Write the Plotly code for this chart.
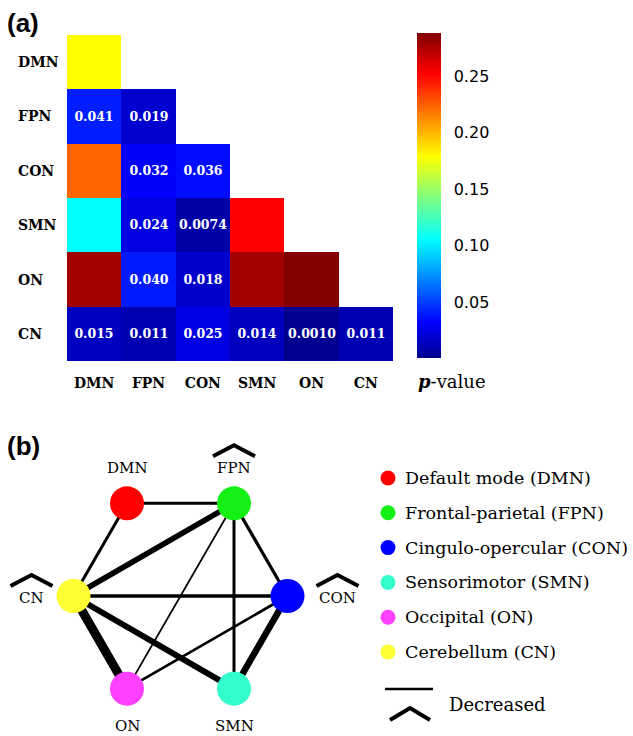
import numpy as np
import plotly.graph_objects as go

W, H = 633, 736

# ---------------- data : panel (a) ----------------
networks = ["DMN", "FPN", "CON", "SMN", "ON", "CN"]

# lower-triangular p-values, one list per row network (columns follow `networks`)
p_DMN = [0.179, None, None, None, None, None]
p_FPN = [0.041, 0.019, None, None, None, None]
p_CON = [0.223, 0.032, 0.036, None, None, None]
p_SMN = [0.106, 0.024, 0.0074, 0.252, None, None]
p_ON = [0.279, 0.040, 0.018, 0.279, 0.287, None]
p_CN = [0.015, 0.011, 0.025, 0.014, 0.0010, 0.011]

# printed values (significant cells only)
t_DMN = ["", "", "", "", "", ""]
t_FPN = ["0.041", "0.019", "", "", "", ""]
t_CON = ["", "0.032", "0.036", "", "", ""]
t_SMN = ["", "0.024", "0.0074", "", "", ""]
t_ON = ["", "0.040", "0.018", "", "", ""]
t_CN = ["0.015", "0.011", "0.025", "0.014", "0.0010", "0.011"]

cbar_ticks = [0.05, 0.10, 0.15, 0.20, 0.25]
p_min, p_max = 0.0010, 0.288

# ---------------- data : panel (b) ----------------
node_full = ["Default mode (DMN)", "Frontal-parietal (FPN)", "Cingulo-opercular (CON)",
             "Sensorimotor (SMN)", "Occipital (ON)", "Cerebellum (CN)"]
node_colors = ["#ff0000", "#14f014", "#0000ff", "#33ffcc", "#ff40ff", "#ffff33"]

edge_a = ["DMN", "DMN", "FPN", "FPN", "FPN", "FPN", "CN", "CN", "CN", "SMN", "ON"]
edge_b = ["FPN", "CN", "CN", "ON", "SMN", "CON", "CON", "ON", "SMN", "CON", "CON"]
edge_weight = [3.0, 3.0, 5.5, 1.8, 3.0, 3.2, 3.5, 9.0, 6.0, 6.5, 2.7]

decreased_within = ["FPN", "CON", "CN"]

# ---------------- helpers / layout geometry ----------------
def py(y):
    return 1 - y / H

def px(x):
    return x / W

SERIF = "DejaVu Serif"

z = [p_DMN, p_FPN, p_CON, p_SMN, p_ON, p_CN]
txt = [t_DMN, t_FPN, t_CON, t_SMN, t_ON, t_CN]

jet = [[0.0, "#000090"], [0.11, "#0000ff"], [0.365, "#00ffff"],
       [0.62, "#ffff00"], [0.875, "#ff0000"], [1.0, "#800000"]]

fig = go.Figure()

CB_TOP, CB_BOT = 33, 358
fig.add_trace(go.Heatmap(
    z=z, x=networks, y=networks, text=txt, texttemplate="%{text}",
    textfont=dict(family=SERIF, size=12.5, color="white", weight="bold"),
    colorscale=jet, zmin=p_min, zmax=p_max, xgap=0, ygap=0,
    hoverongaps=False,
    colorbar=dict(
        x=px(417), xanchor="left", y=py((CB_TOP + CB_BOT) / 2), yanchor="middle",
        len=CB_BOT - CB_TOP, lenmode="pixels", thickness=24, thicknessmode="pixels",
        xpad=0, ypad=0,
        outlinewidth=0, tickvals=cbar_ticks, tickformat=".2f",
        ticks="outside", ticklen=10, tickcolor="white",
        tickfont=dict(family="DejaVu Sans", size=16, color="black"),
    ),
    xaxis="x", yaxis="y",
))

annotations = []
shapes = []

# row labels (left aligned)
for n in networks:
    annotations.append(dict(x=px(16), xref="paper", y=n, yref="y", text=n,
                            showarrow=False, xanchor="left", yanchor="middle",
                            font=dict(family=SERIF, size=14, color="black", weight="bold")))

# inner tick dashes on colour bar
for v in cbar_ticks:
    yy = CB_BOT - (v - p_min) / (p_max - p_min) * (CB_BOT - CB_TOP)
    for x0 in (417, 437):
        shapes.append(dict(type="line", xref="paper", yref="paper",
                           x0=px(x0), x1=px(x0 + 4), y0=py(yy), y1=py(yy),
                           line=dict(color="#333333", width=1)))

annotations.append(dict(x=px(416), y=py(381), xref="paper", yref="paper",
                        text="<b><i>p</i></b>-value", showarrow=False,
                        xanchor="left", yanchor="middle",
                        font=dict(family=SERIF, size=18, color="black")))

for lab, yy in (("(a)", 23), ("(b)", 446)):
    annotations.append(dict(x=px(5), y=py(yy), xref="paper", yref="paper", text=lab,
                            showarrow=False, xanchor="left", yanchor="middle",
                            font=dict(family="Liberation Sans", size=26, color="black",
                                      weight="bold")))

# ---------------- panel (b): network ----------------
cx, cy, R = 180.5, 596, 107
angles = {"CON": 0, "FPN": 60, "DMN": 120, "CN": 180, "ON": 240, "SMN": 300}
pos = {n: (cx + R * np.cos(np.radians(a)), cy - R * np.sin(np.radians(a)))
       for n, a in angles.items()}

for a, b, w in zip(edge_a, edge_b, edge_weight):
    fig.add_trace(go.Scatter(x=[pos[a][0], pos[b][0]], y=[pos[a][1], pos[b][1]],
                             mode="lines", line=dict(color="black", width=w),
                             showlegend=False, hoverinfo="skip",
                             xaxis="x2", yaxis="y2"))

fig.add_trace(go.Scatter(x=[pos[n][0] for n in networks], y=[pos[n][1] for n in networks],
                         mode="markers", marker=dict(size=34, color=node_colors),
                         showlegend=False, hoverinfo="skip", xaxis="x2", yaxis="y2"))

label_off = {"DMN": (0, -35), "FPN": (0, -35), "CON": (50, 2),
             "SMN": (0, 37), "ON": (0, 37), "CN": (-42, 2)}

def hat(lx, ly, w=21, h=11, lift=12):
    fig.add_trace(go.Scatter(x=[lx - w, lx, lx + w], y=[ly - lift, ly - lift - h, ly - lift],
                             mode="lines", line=dict(color="black", width=4),
                             showlegend=False, hoverinfo="skip", xaxis="x2", yaxis="y2"))

for n in networks:
    lx, ly = pos[n][0] + label_off[n][0], pos[n][1] + label_off[n][1]
    annotations.append(dict(x=lx, y=ly, xref="x2", yref="y2", text=n, showarrow=False,
                            xanchor="center", yanchor="middle",
                            font=dict(family=SERIF, size=15, color="black")))
    if n in decreased_within:
        hat(lx, ly)

# legend (drawn)
leg_y = [478 + i * 34.8 for i in range(len(node_full))]
fig.add_trace(go.Scatter(x=[388] * len(node_full), y=leg_y, mode="markers",
                         marker=dict(size=15, color=node_colors),
                         showlegend=False, hoverinfo="skip", xaxis="x2", yaxis="y2"))
for name, yy in zip(node_full, leg_y):
    annotations.append(dict(x=403, y=yy, xref="x2", yref="y2", text=name, showarrow=False,
                            xanchor="left", yanchor="middle",
                            font=dict(family=SERIF, size=17.5, color="black")))

fig.add_trace(go.Scatter(x=[385, 433], y=[689, 689], mode="lines",
                         line=dict(color="black", width=2.5), showlegend=False,
                         hoverinfo="skip", xaxis="x2", yaxis="y2"))
fig.add_trace(go.Scatter(x=[390, 410, 430], y=[720, 708, 720], mode="lines",
                         line=dict(color="black", width=4), showlegend=False,
                         hoverinfo="skip", xaxis="x2", yaxis="y2"))
annotations.append(dict(x=447, y=704, xref="x2", yref="y2", text="Decreased",
                        showarrow=False, xanchor="left", yanchor="middle",
                        font=dict(family=SERIF, size=18, color="black")))

fig.update_layout(
    width=W, height=H, margin=dict(l=0, r=0, t=0, b=0),
    paper_bgcolor="white", plot_bgcolor="rgba(0,0,0,0)",
    showlegend=False,
    xaxis=dict(domain=[px(67), px(393)], categoryorder="array", categoryarray=networks,
               showgrid=False, zeroline=False, showline=False, ticks="",
               ticklabelstandoff=12, anchor="y",
               tickfont=dict(family=SERIF, size=14, color="black", weight="bold")),
    yaxis=dict(domain=[py(361), py(35)], categoryorder="array", categoryarray=networks,
               autorange="reversed", showgrid=False, zeroline=False, showline=False,
               showticklabels=False, ticks="", anchor="x"),
    xaxis2=dict(domain=[0, 1], range=[0, W], visible=False, anchor="y2", fixedrange=True),
    yaxis2=dict(domain=[0, py(400)], range=[H, 400], visible=False, anchor="x2",
                fixedrange=True),
    annotations=annotations, shapes=shapes,
)

fig.write_html("out.html", config={"displayModeBar": False},
               post_script="document.body.style.margin='0px';document.body.style.overflow='hidden';")
